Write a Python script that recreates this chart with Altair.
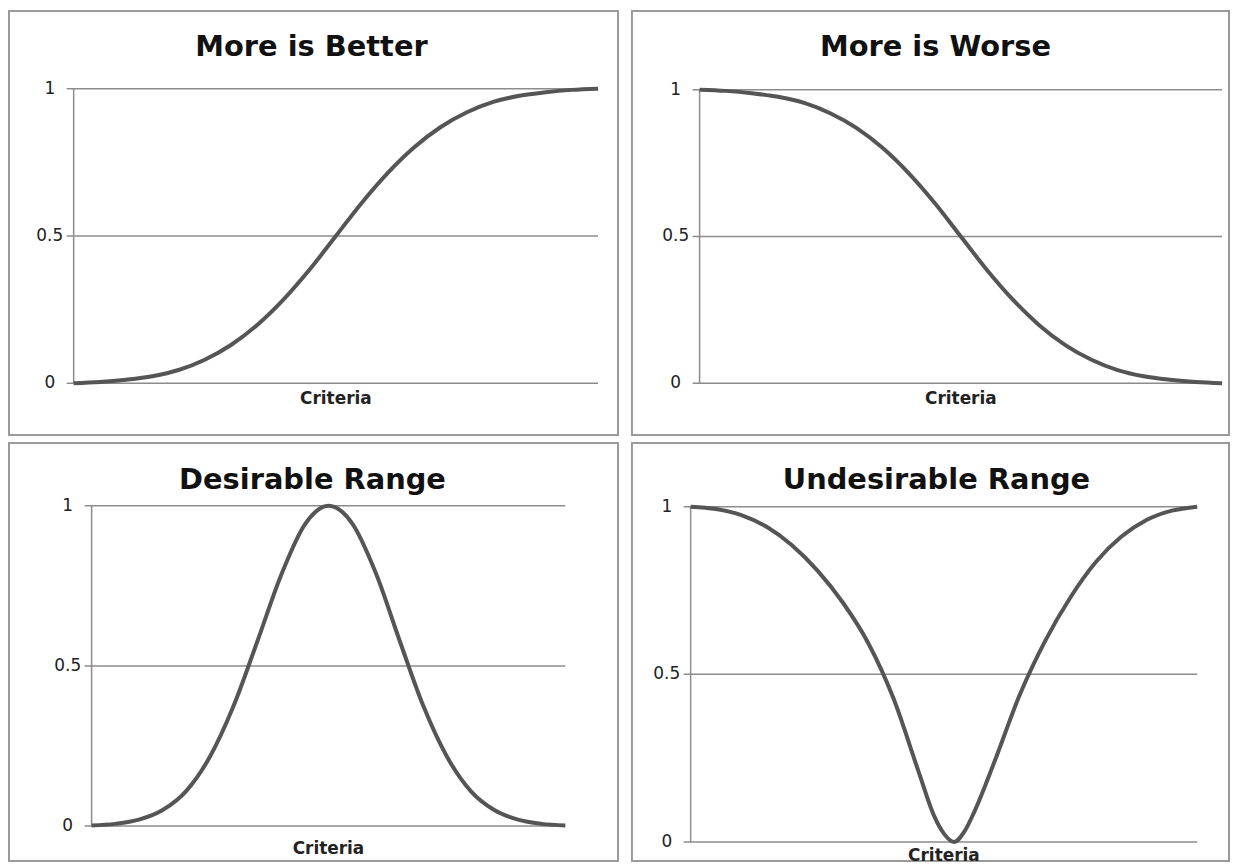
import altair as alt
import pandas as pd

# ---- data ----
XS = [0.0, 0.05, 0.1, 0.15, 0.2, 0.25, 0.3, 0.35, 0.4, 0.45, 0.5,
      0.55, 0.6, 0.65, 0.7, 0.75, 0.8, 0.85, 0.9, 0.95, 1.0]

better_y = [0.0, 0.004, 0.012, 0.024, 0.045, 0.080, 0.130, 0.198, 0.284, 0.386, 0.5,
            0.614, 0.716, 0.802, 0.870, 0.920, 0.955, 0.976, 0.988, 0.996, 1.0]

worse_y = [1.0, 0.996, 0.988, 0.976, 0.955, 0.920, 0.870, 0.802, 0.716, 0.614, 0.5,
           0.386, 0.284, 0.198, 0.130, 0.080, 0.045, 0.024, 0.012, 0.004, 0.0]

desirable_y = [0.002, 0.007, 0.02, 0.05, 0.11, 0.217, 0.376, 0.577, 0.783, 0.941, 1.0,
               0.945, 0.79, 0.58, 0.376, 0.217, 0.11, 0.05, 0.02, 0.007, 0.002]

undes_x = [0.0, 0.05, 0.1, 0.15, 0.2, 0.25, 0.3, 0.35, 0.4, 0.45, 0.48, 0.5, 0.52,
           0.54, 0.56, 0.6, 0.65, 0.7, 0.75, 0.8, 0.85, 0.9, 0.95, 1.0]
undes_y = [1.0, 0.993, 0.975, 0.94, 0.885, 0.81, 0.715, 0.595, 0.43, 0.21, 0.08, 0.025, 0.0,
           0.03, 0.09, 0.24, 0.44, 0.6, 0.73, 0.835, 0.91, 0.96, 0.988, 1.0]

tick_values = [0, 0.5, 1]
tick_labels = ["0", "0.5", "1"]

titles = ["More is Better", "More is Worse", "Desirable Range", "Undesirable Range"]
x_label = "Criteria"

FONT = "DejaVu Sans"
LINE_COLOR = "#555555"
GRID_COLOR = "#8c8c8c"


def panel(title, xs, ys, xdom, ydom, W, H, tx, ty, crit_dy):
    xsc = alt.Scale(domain=xdom, nice=False, zero=False)
    ysc = alt.Scale(domain=ydom, nice=False, zero=False)

    def X(f):
        return alt.X(f, type="quantitative", scale=xsc, axis=None)

    def Y(f):
        return alt.Y(f, type="quantitative", scale=ysc, axis=None)

    ticks = pd.DataFrame({"v": tick_values, "lab": tick_labels,
                          "x0": [0.0] * 3, "x1": [1.0] * 3})
    axis_df = pd.DataFrame({"x0": [0.0], "lo": [0.0], "hi": [1.0]})
    curve = pd.DataFrame({"x": xs, "y": ys})
    crit = pd.DataFrame({"x": [0.5], "y": [0.0], "t": [x_label]})
    tdf = pd.DataFrame({"t": [title]})

    grid = alt.Chart(ticks).mark_rule(color=GRID_COLOR, strokeWidth=1.5, xOffset=-7).encode(
        x=X("x0"), x2="x1", y=Y("v"))
    yaxis = alt.Chart(axis_df).mark_rule(color=GRID_COLOR, strokeWidth=1.5).encode(
        x=X("x0"), y=Y("lo"), y2="hi")
    labels = alt.Chart(ticks).mark_text(dx=-24, align="center", baseline="middle",
                                        font=FONT, fontSize=17, color="#222").encode(
        x=X("x0"), y=Y("v"), text="lab")
    line = alt.Chart(curve).mark_line(color=LINE_COLOR, strokeWidth=4,
                                      interpolate="monotone").encode(
        x=X("x"), y=Y("y"))
    crit_t = alt.Chart(crit).mark_text(dy=crit_dy, align="center", baseline="middle",
                                       font=FONT, fontSize=17, fontWeight="bold",
                                       color="#222").encode(
        x=X("x"), y=Y("y"), text="t")
    title_t = alt.Chart(tdf).mark_text(align="center", baseline="middle", font=FONT,
                                       fontSize=29, fontWeight="bold", color="#111").encode(
        x=alt.value(tx), y=alt.value(ty), text="t")
    return alt.layer(grid, yaxis, labels, line, crit_t, title_t).properties(width=W, height=H)


tl = panel(titles[0], XS, better_y, [-0.1233, 1.0380], [-0.1757, 1.2635], 612, 426, 304, 36, 16)
tr = panel(titles[1], XS, worse_y, [-0.1295, 1.0133], [-0.1763, 1.2678], 600, 426, 305, 36, 16)
bl = panel(titles[2], XS, desirable_y, [-0.1744, 1.1113], [-0.1087, 1.1957], 612, 420, 305, 37, 23)
br = panel(titles[3], undes_x, undes_y, [-0.1159, 1.0629], [-0.0564, 1.1899], 600, 420, 306, 37, 14)

chart = alt.vconcat(
    alt.hconcat(tl, tr, spacing=12),
    alt.hconcat(bl, br, spacing=12),
    spacing=6,
).properties(padding=0, background="white").configure_view(
    stroke="#9a9a9a", strokeWidth=2
)

chart.save("out.html", embed_options={"renderer": "svg", "actions": False})
